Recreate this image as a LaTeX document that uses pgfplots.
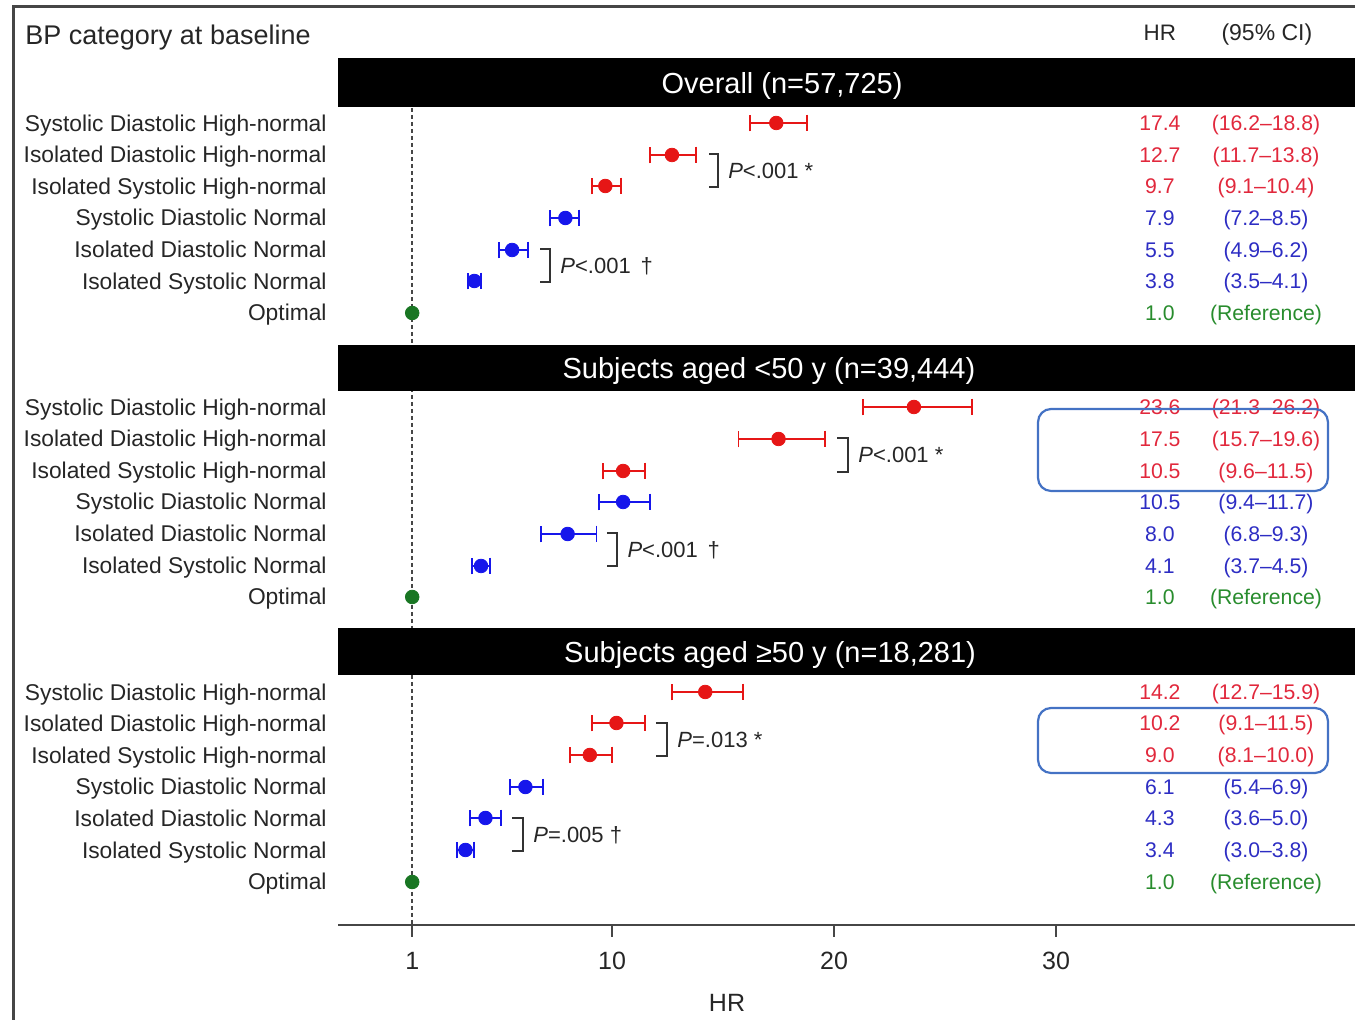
\documentclass[border=0pt]{standalone}
\usepackage{fontspec}
\setmainfont{Liberation Sans}
\usepackage{pgfplots}
\usepackage{pgfplotstable}
\pgfplotsset{compat=1.18}
\definecolor{myred}{RGB}{230,22,22}
\definecolor{myblue}{RGB}{22,22,235}
\definecolor{mygreen}{RGB}{25,118,35}
\definecolor{txtred}{RGB}{225,40,60}
\definecolor{txtblue}{RGB}{45,45,195}
\definecolor{txtgreen}{RGB}{40,140,45}
\definecolor{boxblue}{RGB}{68,114,196}
\definecolor{linegray}{RGB}{70,70,70}

\pgfplotstableread{
y hr lo hi
-123 17.4 16.2 18.8
-155 12.7 11.7 13.8
-186 9.7 9.1 10.4
-407 23.6 21.3 26.2
-439 17.5 15.7 19.6
-471 10.5 9.6 11.5
-692 14.2 12.7 15.9
-723 10.2 9.1 11.5
-755 9.0 8.1 10.0
}\redtab
\pgfplotstableread{
y hr lo hi
-218 7.9 7.2 8.5
-250 5.5 4.9 6.2
-281 3.8 3.5 4.1
-502 10.5 9.4 11.7
-534 8.0 6.8 9.3
-566 4.1 3.7 4.5
-787 6.1 5.4 6.9
-818 4.3 3.6 5.0
-850 3.4 3.0 3.8
}\bluetab
\pgfplotstableread{
y hr
-313 1.0
-597 1.0
-882 1.0
}\greentab

\tikzset{
  lab/.style={anchor=base east, yshift=-4.1pt, font=\fontsize{11.4}{13}\selectfont, text=black!85, inner sep=0pt},
  valst/.style={anchor=base, yshift=-3.8pt, font=\fontsize{10.6}{12}\selectfont, inner sep=0pt},
  pst/.style={anchor=base west, yshift=-3.9pt, font=\fontsize{11}{13}\selectfont, text=black!85, inner sep=0pt},
  hdr/.style={anchor=base, yshift=-5.2pt, font=\fontsize{14.5}{16}\selectfont, text=white, inner sep=0pt},
  brk/.style={line width=0.75pt, color=black!80},
}
\newcommand\rowlabels[1]{%
  \node[lab] at (axis cs:-2.84,{-(#1)}) {Systolic Diastolic High-normal};
  \node[lab] at (axis cs:-2.84,{-(#1+31.6)}) {Isolated Diastolic High-normal};
  \node[lab] at (axis cs:-2.84,{-(#1+63.2)}) {Isolated Systolic High-normal};
  \node[lab] at (axis cs:-2.84,{-(#1+94.8)}) {Systolic Diastolic Normal};
  \node[lab] at (axis cs:-2.84,{-(#1+126.4)}) {Isolated Diastolic Normal};
  \node[lab] at (axis cs:-2.84,{-(#1+158)}) {Isolated Systolic Normal};
  \node[lab] at (axis cs:-2.84,{-(#1+189.6)}) {Optimal};
}
\newcommand\val[4]{%
  \node[valst,text=#4] at (axis cs:34.68,-#1) {#2};
  \node[valst,text=#4] at (axis cs:39.46,-#1) {#3};
}
\newcommand\pbracket[5]{% left x, vertical x, top y, bottom y, text
  \draw[brk] (axis cs:#1,-#3) -- (axis cs:#2,-#3) -- (axis cs:#2,-#4) -- (axis cs:#1,-#4);
  \node[pst] at (axis cs:{#2+0.45},{-(#3+#4)/2}) {#5};
}

\begin{document}
\begin{tikzpicture}
\begin{axis}[
  x=11.1pt, y=0.5pt,
  xmin=-2.342, xmax=43.47, ymin=-925, ymax=-7,
  clip=false, enlargelimits=false,
  axis x line=bottom, axis y line=none, ytick=\empty,
  axis line style={-, line width=1.1pt, color=linegray},
  xtick={1,10,20,30},
  tick align=outside, major tick length=6pt,
  tick style={line width=0.8pt, color=linegray},
  xticklabel style={font=\fontsize{12.5}{14}\selectfont, text=black!85, anchor=center, yshift=-12pt},
  /pgf/number format/assume math mode=true,
]
% reference line at HR = 1
\draw[linegray, line width=0.9pt, dash pattern=on 2pt off 1.5pt] (axis cs:1,-108) -- (axis cs:1,-925);
% header bars
\fill[black] (axis cs:-2.342,-58) rectangle (axis cs:43.47,-107);
\fill[black] (axis cs:-2.342,-345) rectangle (axis cs:43.47,-391);
\fill[black] (axis cs:-2.342,-628) rectangle (axis cs:43.47,-675);
\node[hdr] at (axis cs:17.66,-83) {Overall (n=57,725)};
\node[hdr] at (axis cs:17.07,-368) {Subjects aged <50 y (n=39,444)};
\node[hdr] at (axis cs:17.12,-652) {Subjects aged ≥50 y (n=18,281)};
% frame
\draw[line width=1.5pt, color=linegray] (axis cs:-16.94,-1020) -- (axis cs:-16.94,-7) -- (axis cs:43.47,-7);
% titles
\node[anchor=base west, yshift=-4.8pt, font=\fontsize{13.5}{15}\selectfont, text=black!85, inner sep=0pt] at (axis cs:-16.44,-35) {BP category at baseline};
\node[anchor=base, yshift=-4pt, font=\fontsize{11.2}{13}\selectfont, text=black!85, inner sep=0pt] at (axis cs:34.68,-33) {HR};
\node[anchor=base, yshift=-4pt, font=\fontsize{11.5}{13}\selectfont, text=black!85, inner sep=0pt] at (axis cs:39.5,-33) {(95\% CI)};
\node[anchor=base, yshift=-4.5pt, font=\fontsize{12.5}{14}\selectfont, text=black!85, inner sep=0pt] at (axis cs:15.18,-1003) {HR};
% row labels
\rowlabels{123}
\rowlabels{407}
\rowlabels{692}
% values
\val{123}{17.4}{(16.2–18.8)}{txtred}
\val{155}{12.7}{(11.7–13.8)}{txtred}
\val{186}{9.7}{(9.1–10.4)}{txtred}
\val{218}{7.9}{(7.2–8.5)}{txtblue}
\val{250}{5.5}{(4.9–6.2)}{txtblue}
\val{281}{3.8}{(3.5–4.1)}{txtblue}
\val{313}{1.0}{(Reference)}{txtgreen}
\val{407}{23.6}{(21.3–26.2)}{txtred}
\val{439}{17.5}{(15.7–19.6)}{txtred}
\val{471}{10.5}{(9.6–11.5)}{txtred}
\val{502}{10.5}{(9.4–11.7)}{txtblue}
\val{534}{8.0}{(6.8–9.3)}{txtblue}
\val{566}{4.1}{(3.7–4.5)}{txtblue}
\val{597}{1.0}{(Reference)}{txtgreen}
\val{692}{14.2}{(12.7–15.9)}{txtred}
\val{723}{10.2}{(9.1–11.5)}{txtred}
\val{755}{9.0}{(8.1–10.0)}{txtred}
\val{787}{6.1}{(5.4–6.9)}{txtblue}
\val{818}{4.3}{(3.6–5.0)}{txtblue}
\val{850}{3.4}{(3.0–3.8)}{txtblue}
\val{882}{1.0}{(Reference)}{txtgreen}
% brackets and p-values
\pbracket{14.37}{14.77}{154}{187}{\textit{P}<.001 *}
\pbracket{6.76}{7.21}{249}{282}{\textit{P}<.001 \,†}
\pbracket{20.14}{20.63}{438}{472}{\textit{P}<.001 *}
\pbracket{9.77}{10.23}{533}{566}{\textit{P}<.001 \,†}
\pbracket{11.98}{12.48}{723}{756}{\textit{P}=.013 *}
\pbracket{5.50}{5.99}{818}{851}{\textit{P}=.005 †}
% highlight boxes
\draw[boxblue, line width=1.1pt, rounded corners=6.5pt] (axis cs:29.19,-409) rectangle (axis cs:42.25,-491);
\draw[boxblue, line width=1.1pt, rounded corners=6.5pt] (axis cs:29.19,-708) rectangle (axis cs:42.25,-773);
% data
\addplot[only marks, mark=*, mark size=3.4pt, color=myred,
  error bars/.cd, x dir=both, x explicit,
  error bar style={line width=0.9pt, color=myred},
  error mark options={rotate=90, line width=0.9pt, mark size=4.2pt, color=myred}]
  table[x=hr, y=y, x error plus expr=\thisrow{hi}-\thisrow{hr}, x error minus expr=\thisrow{hr}-\thisrow{lo}] {\redtab};
\addplot[only marks, mark=*, mark size=3.4pt, color=myblue,
  error bars/.cd, x dir=both, x explicit,
  error bar style={line width=0.9pt, color=myblue},
  error mark options={rotate=90, line width=0.9pt, mark size=4.2pt, color=myblue}]
  table[x=hr, y=y, x error plus expr=\thisrow{hi}-\thisrow{hr}, x error minus expr=\thisrow{hr}-\thisrow{lo}] {\bluetab};
\addplot[only marks, mark=*, mark size=3.4pt, color=mygreen] table[x=hr, y=y] {\greentab};
% bounding box corners
\coordinate (TL) at (axis cs:-17.568,0);
\coordinate (BR) at (axis cs:43.468,-1020);
\end{axis}
\pgfresetboundingbox
\path[use as bounding box] (TL) rectangle (BR);
\end{tikzpicture}
\end{document}
